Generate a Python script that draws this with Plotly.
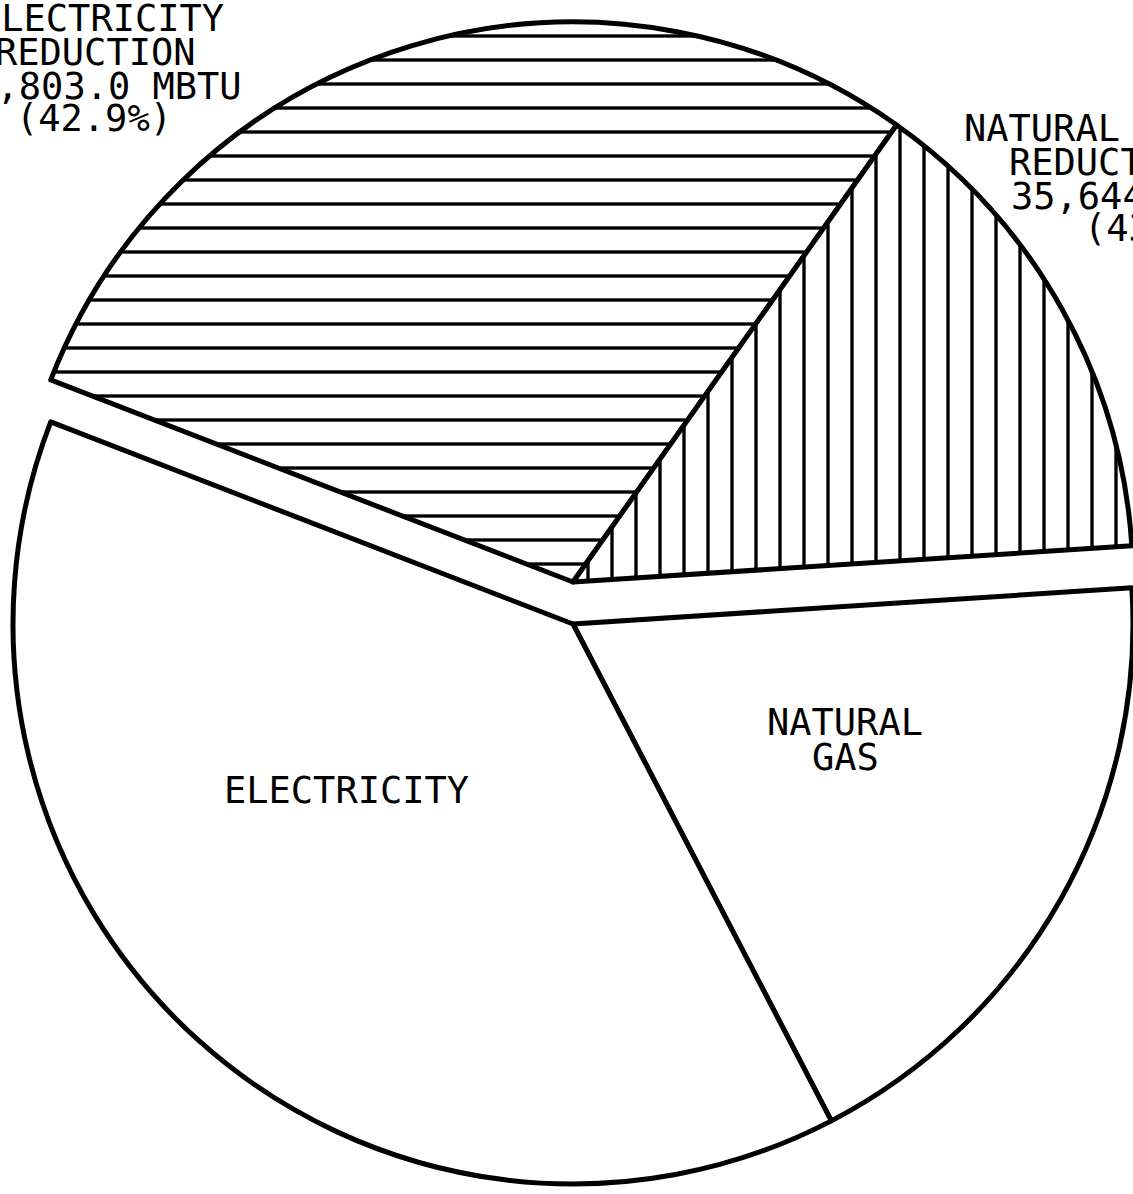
import plotly.graph_objects as go

# ---- data ----
slice_labels = ["ELECTRICITY REDUCTION", "NATURAL GAS REDUCTION", "NATURAL GAS", "ELECTRICITY"]
slice_values = [72803.0, 35644.0, 46300.0, 96900.0]   # MBTU (remaining slices estimated from angles)
slice_patterns = ["-", "|", "", ""]
reduction_pct = [42.9, 43.5]

elec_red_lines = ["ELECTRICITY", "REDUCTION", "72,803.0 MBTU", "(42.9%)"]
gas_red_lines = ["NATURAL GAS", "REDUCTION", "35,644.0 MBTU", "(43.5%)"]
gas_lines = ["NATURAL", "GAS"]
elec_lines = ["ELECTRICITY"]

# ---- layout helpers (pixels of the 1133x1194 page) ----
W, H = 1133, 1194
R = 560
CX = 573
CY_LOW, CY_UP = 624, 582


def dom(cx, cy, r):
    return dict(x=[max(0.0, (cx - r) / W), min(1.0, (cx + r) / W)],
                y=[max(0.0, 1 - (cy + r) / H), min(1.0, 1 - (cy - r) / H)])


CLEAR = "rgba(0,0,0,0)"
upper_show = [True, True, False, False]
lower_show = [False, False, True, True]


def pie(show, cy):
    return go.Pie(
        labels=slice_labels,
        values=slice_values,
        sort=False,
        direction="clockwise",
        rotation=-68.85,
        textinfo="none",
        hoverinfo="skip",
        showlegend=False,
        domain=dom(CX, cy, R),
        marker=dict(
            colors=["white" if s else CLEAR for s in show],
            line=dict(color=["black" if s else CLEAR for s in show],
                      width=[5 if s else 0 for s in show]),
            pattern=dict(shape=[p if s else "" for p, s in zip(slice_patterns, show)],
                         size=24, solidity=0.14, fgcolor="black"),
        ),
    )


fig = go.Figure([pie(lower_show, CY_LOW), pie(upper_show, CY_UP)])

FONT = dict(family="DejaVu Sans Mono", size=37, color="black")
ann = []


def add(text, x, y, anchor="left"):
    ann.append(dict(text=text, x=x / W, y=1 - y / H, xref="paper", yref="paper",
                    xanchor=anchor, yanchor="middle", showarrow=False, font=FONT))


for t, x, y in zip(elec_red_lines, [-23, -7, -50, 14], [19, 53, 86, 119]):
    add(t, x, y)
for t, x, y in zip(gas_red_lines, [962, 1007, 1009, 1082], [129, 163, 196, 229]):
    add(t, x, y)
for t, y in zip(gas_lines, [722, 757]):
    add(t, 845, y, "center")
add(elec_lines[0], 346, 790, "center")

fig.update_layout(
    width=W, height=H,
    margin=dict(l=0, r=0, t=0, b=0),
    paper_bgcolor="white", plot_bgcolor="white",
    annotations=ann,
)
fig.write_html("out.html",
               config={"displayModeBar": False},
               post_script="document.body.style.margin='0';document.body.style.overflow='hidden';")
